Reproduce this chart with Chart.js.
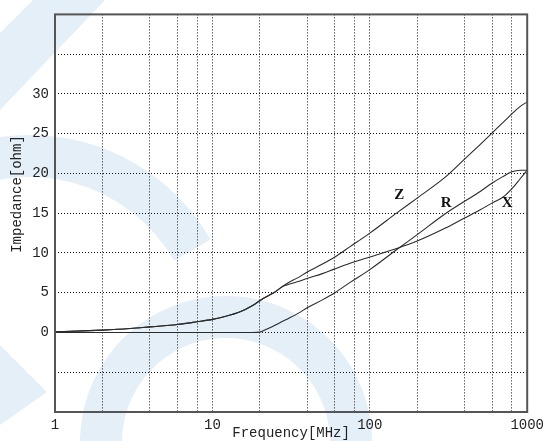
<!DOCTYPE html>
<html><head><meta charset="utf-8">
<style>html,body{margin:0;padding:0;background:#fff}canvas{display:block}</style>
<script src="https://cdn.jsdelivr.net/npm/chart.js@4/dist/chart.umd.min.js"></script>
</head><body>
<canvas id="c" width="549" height="441"></canvas>
<script>
// ---- data ----
const freqMHz = [1, 1.5, 2, 3, 4, 6, 8, 10, 12, 15, 18, 20, 22, 25, 28, 30, 35, 40, 50, 60, 75, 100, 150, 200, 300, 400, 500, 600, 700, 800, 900, 1000];
const zOhm    = [0.1, 0.2, 0.3, 0.5, 0.7, 1.0, 1.35, 1.65, 2.0, 2.6, 3.4, 4.0, 4.5, 5.1, 5.8, 6.2, 6.9, 7.6, 8.6, 9.5, 10.8, 12.5, 15.1, 16.9, 19.5, 21.8, 23.6, 25.1, 26.4, 27.5, 28.4, 29.0];
const rOhm    = [0, 0, 0, 0, 0, 0, 0, 0, 0, 0, 0, 0.05, 0.4, 0.9, 1.4, 1.7, 2.4, 3.1, 4.1, 5.0, 6.3, 7.9, 10.5, 12.3, 14.9, 16.5, 17.7, 18.8, 19.6, 20.2, 20.4, 20.4];
const xOhm    = [0.1, 0.2, 0.3, 0.5, 0.7, 1.0, 1.35, 1.65, 2.0, 2.6, 3.4, 4.0, 4.5, 5.1, 5.8, 6.0, 6.4, 6.8, 7.4, 8.0, 8.7, 9.5, 10.6, 11.5, 13.1, 14.4, 15.4, 16.3, 17.0, 18.1, 19.3, 20.4];
const xGridMHz   = [1, 2, 4, 6, 8, 10, 20, 40, 60, 80, 100, 200, 400, 600, 800, 1000];
const xLabelMHz  = [1, 10, 100, 1000];
const yLabelOhm  = [0, 5, 10, 15, 20, 25, 30];
const curveNames = ['Z', 'R', 'X'];
const curveLabelMHz = [154, 306, 746];
const curveLabelOhm = [17.25, 16.25, 16.25];
const xTitle = 'Frequency[MHz]';
const yTitle = 'Impedance[ohm]';

const FONT = '"Liberation Mono", "DejaVu Sans Mono", monospace';
const WM = '#e4eff8';
const LINE = '#2a2a2a';

const toPts = vals => freqMHz.map((f, i) => ({x: f, y: vals[i]}));

const bgPlugin = {
  id: 'bg',
  beforeDraw(chart) {
    const ctx = chart.ctx;
    ctx.save();
    ctx.fillStyle = '#fff';
    ctx.fillRect(0, 0, chart.width, chart.height);
    ctx.fillStyle = WM;
    ctx.beginPath();
    ctx.moveTo(33, 0); ctx.lineTo(105, 0); ctx.lineTo(0, 110); ctx.lineTo(0, 33);
    ctx.closePath(); ctx.fill();
    ctx.beginPath();
    ctx.arc(29.5, 344, 209, -Math.PI, -Math.PI / 6, false);
    ctx.arc(29.5, 344, 167, -Math.PI / 6, -Math.PI, true);
    ctx.closePath(); ctx.fill();
    ctx.beginPath();
    ctx.arc(226, 442, 146, Math.PI * 0.95, Math.PI * 2.05, false);
    ctx.arc(226, 442, 104, Math.PI * 2.05, Math.PI * 0.95, true);
    ctx.closePath(); ctx.fill();
    ctx.beginPath();
    ctx.moveTo(0, 345); ctx.lineTo(47, 392); ctx.lineTo(0, 425);
    ctx.closePath(); ctx.fill();
    ctx.restore();
  }
};

const overlayPlugin = {
  id: 'overlay',
  afterDraw(chart) {
    const ctx = chart.ctx, a = chart.chartArea;
    const xs = chart.scales.x, ys = chart.scales.y;
    ctx.save();
    ctx.strokeStyle = '#555';
    ctx.lineWidth = 2;
    ctx.strokeRect(a.left, a.top, a.right - a.left, a.bottom - a.top);
    ctx.fillStyle = '#111';
    ctx.font = 'bold 15px "Liberation Serif", serif';
    ctx.textAlign = 'center';
    ctx.textBaseline = 'middle';
    curveNames.forEach((n, i) => {
      ctx.fillText(n, xs.getPixelForValue(curveLabelMHz[i]), ys.getPixelForValue(curveLabelOhm[i]));
    });
    ctx.fillStyle = '#222';
    ctx.font = '14px ' + FONT;
    ctx.fillText(xTitle, (a.left + a.right) / 2, 433);
    ctx.translate(17, 194);
    ctx.rotate(-Math.PI / 2);
    ctx.fillText(yTitle, 0, 0);
    ctx.restore();
  }
};

const ds = (label, vals) => ({
  label, data: toPts(vals),
  borderColor: LINE, borderWidth: 1.1, pointRadius: 0,
  cubicInterpolationMode: 'monotone', fill: false
});

new Chart(document.getElementById('c'), {
  type: 'line',
  data: { datasets: [ds('Z', zOhm), ds('R', rOhm), ds('X', xOhm)] },
  options: {
    responsive: false, animation: false,
    layout: { padding: { top: 9, right: 21, left: 0, bottom: 0 } },
    plugins: { legend: { display: false }, tooltip: { enabled: false } },
    scales: {
      x: {
        type: 'logarithmic', min: 1, max: 1000,
        afterBuildTicks: s => { s.ticks = xGridMHz.map(v => ({ value: v })); },
        afterFit: s => { s.height = 29; },
        ticks: {
          autoSkip: false, maxRotation: 0, padding: 5, color: '#222',
          font: { family: FONT, size: 14 },
          callback: v => xLabelMHz.includes(v) ? String(v) : ''
        },
        grid: { color: '#111', lineWidth: 1, drawTicks: false },
        border: { display: false, dash: [1, 2] }
      },
      y: {
        min: -10, max: 40,
        afterBuildTicks: s => { const t = []; for (let v = -10; v <= 40; v += 5) t.push({ value: v }); s.ticks = t; },
        afterFit: s => { s.width = 55; },
        ticks: {
          padding: 6, color: '#222',
          font: { family: FONT, size: 14 },
          callback: v => yLabelOhm.includes(v) ? String(v) : ''
        },
        grid: { color: '#111', lineWidth: 1, drawTicks: false },
        border: { display: false, dash: [1, 2] }
      }
    }
  },
  plugins: [bgPlugin, overlayPlugin]
});
</script>
</body></html>
